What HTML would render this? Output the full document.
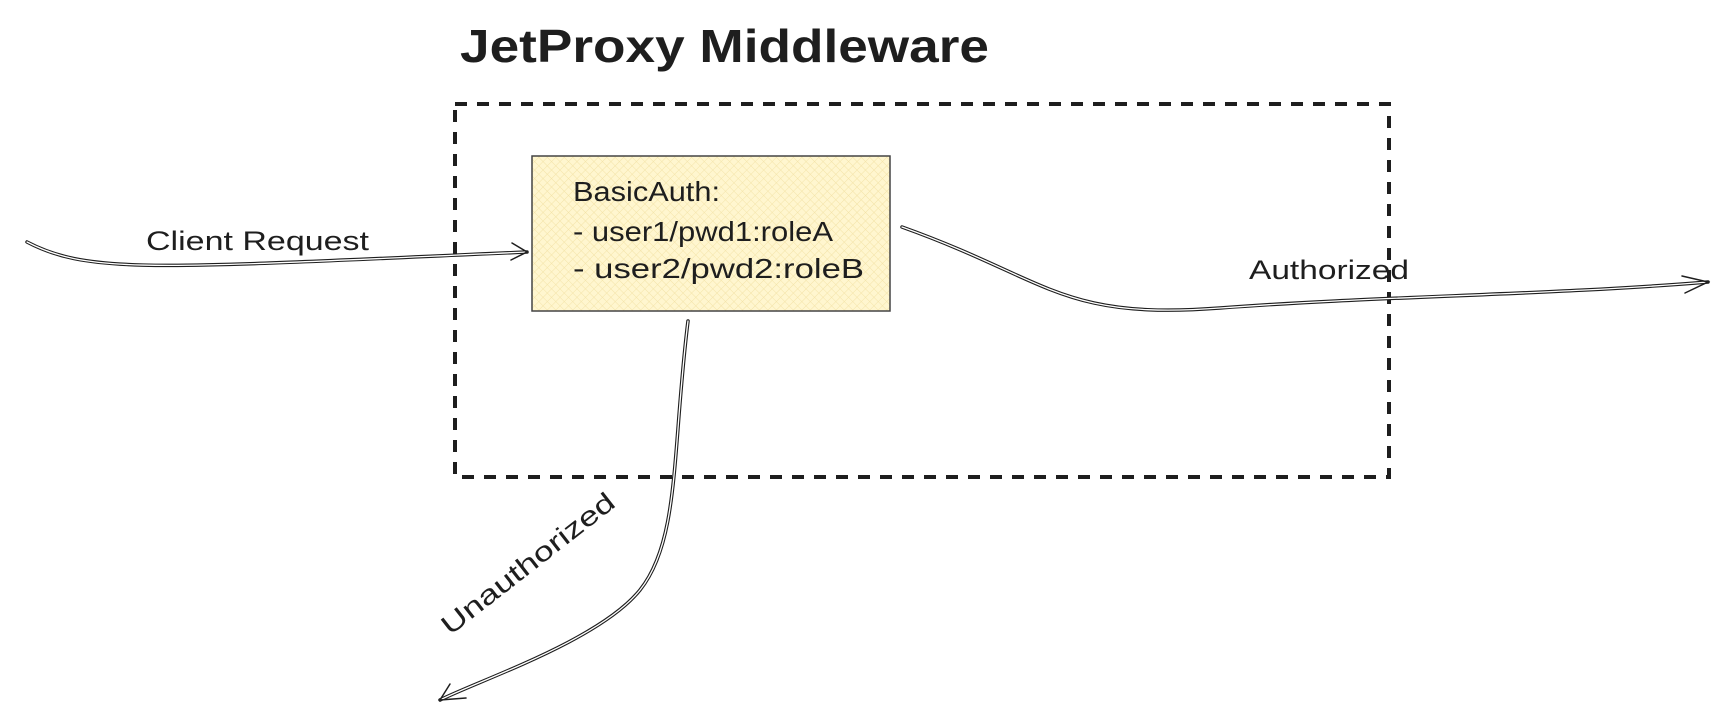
<!DOCTYPE html>
<html><head><meta charset="utf-8"><style>
html,body{margin:0;padding:0;background:#fff;width:1736px;height:718px;overflow:hidden}
svg{display:block}
text{font-family:"Liberation Sans",sans-serif;fill:#1e1e1e}
</style></head><body>
<svg width="1736" height="718" viewBox="0 0 1736 718" xmlns="http://www.w3.org/2000/svg">
<defs>
<pattern id="h" width="6" height="6" patternUnits="userSpaceOnUse" patternTransform="rotate(45)">
<rect width="6" height="6" fill="#fff6cf"/>
<line x1="0" y1="0" x2="0" y2="6" stroke="#f3e3a8" stroke-width="1"/>
<line x1="0" y1="0" x2="6" y2="0" stroke="#f3e3a8" stroke-width="1"/>
</pattern>
</defs>
<text x="460" y="62" font-size="46" font-weight="bold" textLength="529" lengthAdjust="spacingAndGlyphs">JetProxy Middleware</text>
<rect x="455" y="104" width="934" height="373" fill="none" stroke="#1e1e1e" stroke-width="4" stroke-dasharray="12 10"/>
<rect x="532" y="156" width="358" height="155" fill="url(#h)" stroke="#444" stroke-width="1.5"/>
<text x="573" y="201" font-size="28" textLength="147" lengthAdjust="spacingAndGlyphs">BasicAuth:</text>
<text x="573" y="241" font-size="28" textLength="260" lengthAdjust="spacingAndGlyphs">- user1/pwd1:roleA</text>
<text x="573" y="278" font-size="28" textLength="291" lengthAdjust="spacingAndGlyphs">- user2/pwd2:roleB</text>
<g fill="none" stroke-linecap="round">
<path d="M27 242 C 90 275, 160 268, 527 252" stroke="#1e1e1e" stroke-width="3.5"/>
<path d="M27 242 C 90 275, 160 268, 527 252" stroke="#fff" stroke-width="1.3"/>
<path d="M512 243 L527 252 L511 260" stroke="#1e1e1e" stroke-width="1.5"/>
<path d="M902 227 C 1050 280, 1060 320, 1220 308 S 1550 295 1708 282" stroke="#1e1e1e" stroke-width="3.5"/>
<path d="M902 227 C 1050 280, 1060 320, 1220 308 S 1550 295 1708 282" stroke="#fff" stroke-width="1.3"/>
<path d="M1682 276 L1708 282 L1685 293" stroke="#1e1e1e" stroke-width="1.5"/>
<path d="M688 321 C 672 450, 680 540, 640 590 C 600 640, 480 680, 440 700" stroke="#1e1e1e" stroke-width="3.5"/>
<path d="M688 321 C 672 450, 680 540, 640 590 C 600 640, 480 680, 440 700" stroke="#fff" stroke-width="1.3"/>
<path d="M450 684 L440 700 L466 698" stroke="#1e1e1e" stroke-width="1.5"/>
</g>
<text x="146" y="250" font-size="27" textLength="223" lengthAdjust="spacingAndGlyphs">Client Request</text>
<text x="1249" y="279" font-size="27" textLength="160" lengthAdjust="spacingAndGlyphs">Authorized</text>
<text x="0" y="0" font-size="27" textLength="212" lengthAdjust="spacingAndGlyphs" transform="translate(450 636) rotate(-38)">Unauthorized</text>
</svg>
</body></html>
